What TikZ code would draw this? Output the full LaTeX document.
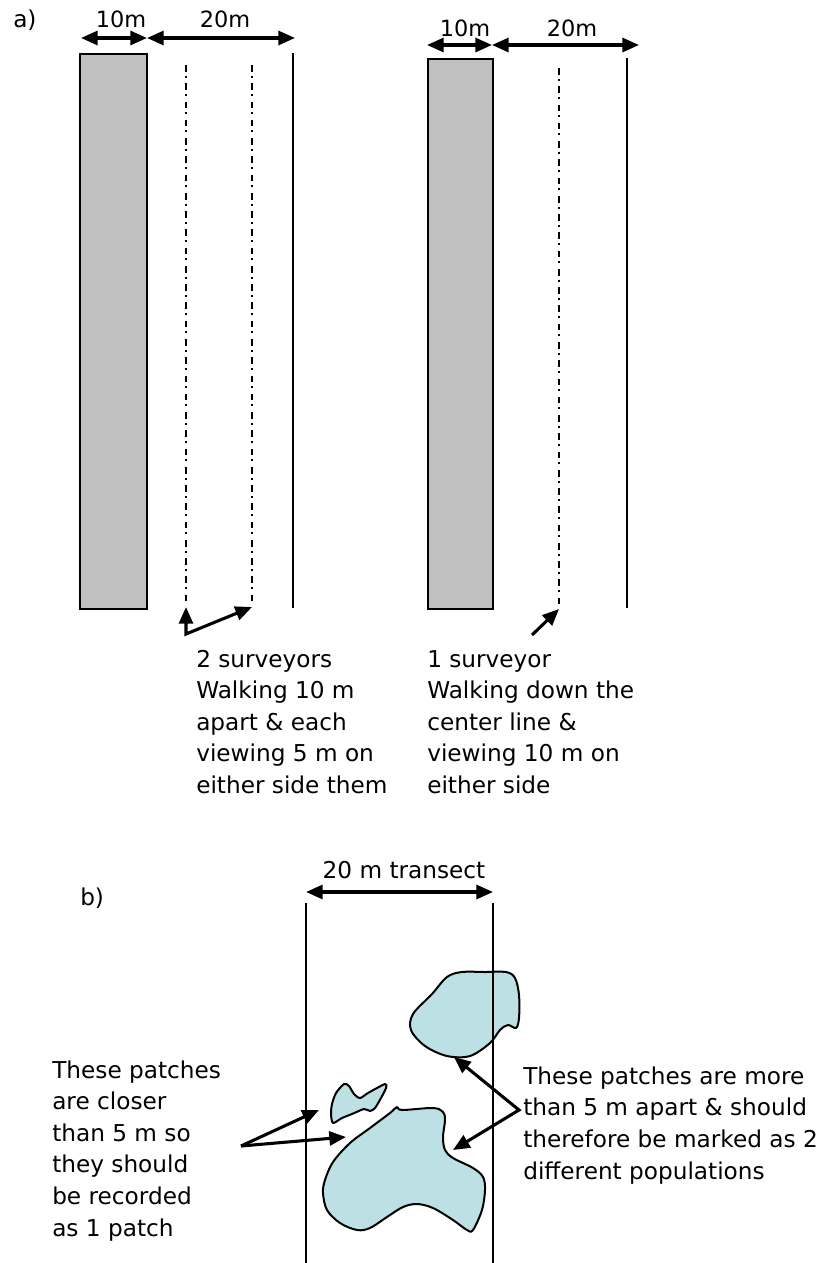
\documentclass[tikz,border=0pt]{standalone}
\usepackage{fontspec}
\setmainfont{DejaVu Sans}
\usetikzlibrary{arrows.meta}
\definecolor{rectgray}{RGB}{192,192,192}
\definecolor{patchcol}{RGB}{189,224,228}
\begin{document}
\begin{tikzpicture}[x=0.75pt,y=-0.75pt,
  txt/.style={font=\fontsize{17.4}{23.6}\selectfont, inner sep=0pt, anchor=base west},
  lbl/.style={font=\fontsize{16.8}{20}\selectfont, inner sep=0pt, anchor=base},
  tipA/.tip={Triangle[length=12.5pt,width=10.5pt]},
  dimarrow/.style={line width=2.3pt, tipA-tipA},
  ptr/.style={line width=2.3pt, -tipA},
  solidline/.style={line width=1.2pt},
  dashdotline/.style={line width=2pt, dash pattern=on 5pt off 3pt on 1.5pt off 4.2pt},
  patchstyle/.style={fill=patchcol, draw=black, line width=1.5pt, line join=round},
  grayrect/.style={fill=rectgray, draw=black, line width=1.2pt}]
\useasboundingbox (0,0) rectangle (826,1263);

% ---------- part a, left ----------
\node[txt] (alabel) at (13,28) {a)};
\node[grayrect, inner sep=0pt, minimum width=67*0.75pt, minimum height=555*0.75pt, anchor=north west] (rectL) at (79,53) {};
\coordinate (dL0) at (81,38);
\coordinate (dL1) at (147,38);
\coordinate (dL2) at (295,38);
\draw[dimarrow] (dL0) -- (dL1);
\draw[dimarrow] (dL1) -- (dL2);
\node[lbl] (tenL) at (121,28) {10m};
\node[lbl] (twentyL) at (225,28) {20m};
\coordinate (s1top) at (186,65);
\coordinate (s1bot) at (186,603);
\coordinate (s2top) at (252,65);
\coordinate (s2bot) at (252,603);
\draw[dashdotline] (s1top) -- (s1bot);
\draw[dashdotline] (s2top) -- (s2bot);
\coordinate (eLtop) at (293,53);
\coordinate (eLbot) at (293,608);
\draw[solidline] (eLtop) -- (eLbot);
\coordinate (s1tip) at (186,607);
\coordinate (sCorner) at (186,634);
\coordinate (s2tip) at (252,607);
\draw[dimarrow, line join=miter] (s1tip) -- (sCorner) -- (s2tip);
\foreach \t [count=\i] in {2 surveyors, Walking 10 m, apart \& each, viewing 5 m on, either side them}
  \node[txt] (lt\i) at (196,{667+31.5*(\i-1)}) {\t};

% ---------- part a, right ----------
\node[grayrect, inner sep=0pt, minimum width=65*0.75pt, minimum height=550*0.75pt, anchor=north west] (rectR) at (427,58) {};
\coordinate (dR0) at (427,45);
\coordinate (dR1) at (492,45);
\coordinate (dR2) at (639,45);
\draw[dimarrow] (dR0) -- (dR1);
\draw[dimarrow] (dR1) -- (dR2);
\node[lbl] (tenR) at (465,37) {10m};
\node[lbl] (twentyR) at (572,37) {20m};
\coordinate (s3top) at (559,68);
\coordinate (s3bot) at (559,608);
\draw[dashdotline] (s3top) -- (s3bot);
\coordinate (eRtop) at (627,58);
\coordinate (eRbot) at (627,608);
\draw[solidline] (eRtop) -- (eRbot);
\coordinate (s3tail) at (532,635);
\coordinate (s3tip) at (559,609);
\draw[ptr] (s3tail) -- (s3tip);
\foreach \t [count=\i] in {1 surveyor, Walking down the, center line \&, viewing 10 m on, either side}
  \node[txt] (rt\i) at (427,{667+31.5*(\i-1)}) {\t};

% ---------- part b ----------
\node[txt] (blabel) at (80,905) {b)};
\node[txt, anchor=base] (transect) at (404,878) {20 m transect};
\coordinate (tr0) at (306,892);
\coordinate (tr1) at (493,892);
\draw[dimarrow] (tr0) -- (tr1);

% patches
\draw[patchstyle] plot[smooth cycle, tension=0.55] coordinates {
  (447,977) (462,972) (485,972) (506,972) (515,978) (519,995) (519,1018)
  (516,1028) (508,1025) (500,1030) (490,1043) (470,1056) (447,1056)
  (425,1046) (411,1030) (413,1014) (432,994)};
\draw[patchstyle] plot[smooth cycle, tension=0.45] coordinates {
  (332,1104) (336,1093) (344,1084) (349,1086) (354,1094) (360,1098) (368,1093)
  (385,1084) (386,1088) (381,1098) (375,1108) (370,1111) (364,1109)
  (352,1114) (342,1118) (333,1123) (331,1114)};
\draw[patchstyle] plot[smooth cycle, tension=0.55] coordinates {
  (397,1107) (402,1110) (433,1108) (443,1112) (445,1120) (443,1137) (445,1150)
  (453,1158) (473,1168) (483,1177) (485,1190) (482,1210) (473,1230) (467,1230)
  (453,1220) (433,1208) (417,1204) (403,1207) (387,1217) (370,1228) (357,1230)
  (340,1223) (327,1210) (323,1193) (325,1180) (333,1162) (350,1143) (370,1128)
  (390,1113)};

\coordinate (tlTop) at (306,903);
\coordinate (tlBot) at (306,1263);
\coordinate (trTop) at (493,903);
\coordinate (trBot) at (493,1263);
\draw[solidline] (tlTop) -- (tlBot);
\draw[solidline] (trTop) -- (trBot);

% right arrows
\coordinate (rj) at (519,1110);
\coordinate (rtipA) at (454,1057);
\coordinate (rtipB) at (453,1150);
\draw[dimarrow, line join=miter] (rtipA) -- (rj) -- (rtipB);
% left arrows
\coordinate (lj) at (241,1146);
\coordinate (ltipA) at (319,1110);
\coordinate (ltipB) at (346,1137);
\draw[ptr] (lj) -- (ltipA);
\draw[ptr] (lj) -- (ltipB);

\foreach \t [count=\i] in {These patches, are closer, than 5 m so, they should, be recorded, as 1 patch}
  \node[txt] (bl\i) at (52,{1078+31.6*(\i-1)}) {\t};
\foreach \t [count=\i] in {These patches are more, than 5 m apart \& should, therefore be marked as 2, different populations}
  \node[txt] (br\i) at (523,{1084+31.8*(\i-1)}) {\t};
\end{tikzpicture}
\end{document}
